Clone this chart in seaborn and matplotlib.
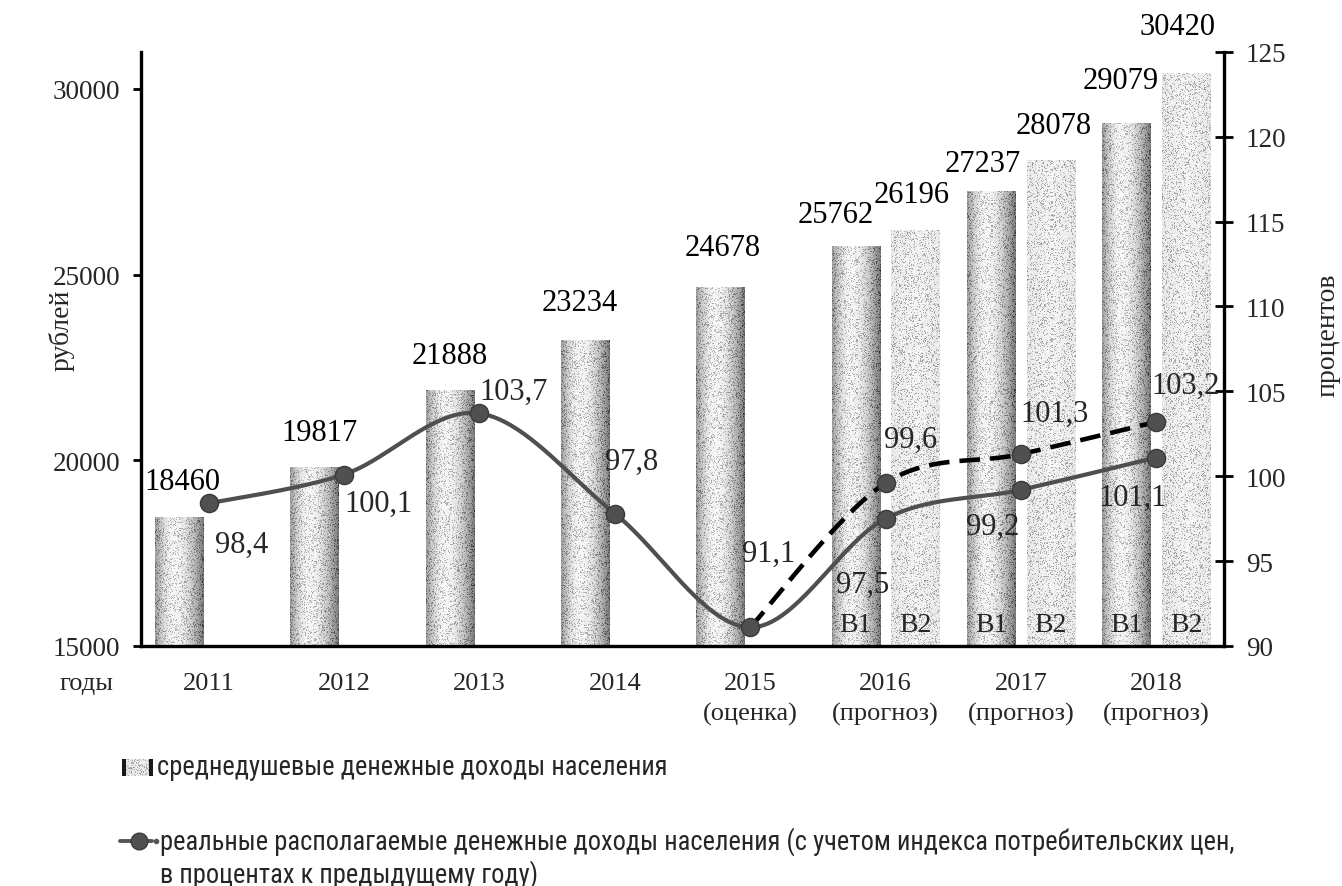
import numpy as np
import pandas as pd
import matplotlib
matplotlib.use("Agg")
import matplotlib.pyplot as plt
from matplotlib.lines import Line2D
from matplotlib import font_manager as fm
import seaborn as sns

# ---- data ----
years = ["2011", "2012", "2013", "2014", "2015", "2016", "2017", "2018"]
year_notes = ["", "", "", "", "(оценка)", "(прогноз)", "(прогноз)", "(прогноз)"]
variants = ["В1", "В2"]

income_v1 = [18460, 19817, 21888, 23234, 24678, 25762, 27237, 29079]
income_v2_years = ["2016", "2017", "2018"]
income_v2 = [26196, 28078, 30420]

real_v1 = [98.4, 100.1, 103.7, 97.8, 91.1, 97.5, 99.2, 101.1]
real_v2_years = ["2015", "2016", "2017", "2018"]
real_v2 = [91.1, 99.6, 101.3, 103.2]

legend_bars = "среднедушевые денежные доходы населения"
legend_line_1 = "реальные располагаемые денежные доходы населения (с учетом индекса потребительских цен,"
legend_line_2 = "в процентах к предыдущему году)"

df = pd.DataFrame({
    "year": years + income_v2_years,
    "income": income_v1 + income_v2,
    "variant": [variants[0]] * len(income_v1) + [variants[1]] * len(income_v2),
})

# ---- style ----
sns.set_theme(style="white")
plt.rcParams["font.family"] = ["Liberation Serif", "DejaVu Serif"]


def installed(name):
    try:
        fm.findfont(fm.FontProperties(family=name), fallback_to_default=False)
        return True
    except Exception:
        return False


narrow_family = next((f for f in ["Liberation Sans Narrow", "Arial Narrow", "Roboto Condensed",
                                  "Open Sans Condensed"] if installed(f)), "Liberation Sans")
NARROW = [narrow_family, "DejaVu Sans"]

W, H = 1342, 887
fig = plt.figure(figsize=(W / 100, H / 100), dpi=100)
fig.patch.set_facecolor("white")


def fx(px):
    return px / W


def fy(py):
    return 1 - py / H


ax = fig.add_axes([fx(141), fy(647), fx(1224) - fx(141), fy(52.7) - fy(647)])
Y0, Y1 = 15000, 31000
P0, P1 = 90, 125

sns.barplot(data=df, x="year", y="income", hue="variant", order=years,
            hue_order=variants, palette={"В1": "#909090", "В2": "#d8d8d8"},
            width=0.88, gap=0.19, saturation=1, errorbar=None, legend=False,
            ax=ax, zorder=2)
ax.set_xlim(-0.5, len(years) - 0.5)
ax.set_ylim(Y0, Y1)

rng = np.random.default_rng(7)
px_per_unit = (647 - 52.7) / (Y1 - Y0)


def shade(u, light):
    """Cylinder-like brightness profile across a bar (u from 0 to 1)."""
    if light:
        return 0.95 - 0.04 * np.abs(u - 0.5) * 2
    left = 0.96 - 0.36 * ((0.40 - u) / 0.40) ** 1.8
    right = 0.96 - 0.50 * ((u - 0.40) / 0.60) ** 1.8
    return np.where(u < 0.40, left, right)


def grain(prof, density, depth):
    rows, cols = prof.shape
    speck = rng.random((rows, cols)) < density
    return np.clip(prof + rng.normal(0, 0.03, (rows, cols)) - speck * depth, 0, 1)


bars = sorted([p for p in ax.patches if p.get_height() > 0], key=lambda p: p.get_x())
for p in bars:
    light = p.get_facecolor()[0] > 0.7
    x0, w, h = p.get_x(), p.get_width(), p.get_height()
    rows = max(int((h - Y0) * px_per_unit), 2)
    cols = 48
    u = (np.arange(cols) + 0.5) / cols
    prof = np.tile(shade(u, light), (rows, 1))
    img = grain(prof, 0.16, 0.28) if light else grain(prof, 0.18, 0.25)
    im = ax.imshow(img, extent=[x0, x0 + w, Y0, h], aspect="auto", cmap="gray",
                   vmin=0, vmax=1, interpolation="nearest", zorder=2)
    im.set_clip_path(p)
    p.set_facecolor("none")
    p.set_edgecolor("none")

# value labels above the bars (pixel nudges: dx, height above top)
bar_label_nudge = [(3, 36), (5, 35), (0, 35), (-5, 38), (2, 39), (-20, 32),
                   (-4, 36), (-8, 28), (3, 35), (-6, 43), (-9, 47)]
for p, (dx, dy) in zip(bars, bar_label_nudge):
    ax.annotate(f"{int(round(p.get_height()))}",
                xy=(p.get_x() + p.get_width() / 2, p.get_height()),
                xytext=(dx * 0.72, dy * 0.72), textcoords="offset points",
                ha="center", va="center", fontsize=22, color="black", zorder=6)

# variant captions at the foot of the forecast bars
for yr in income_v2_years:
    idx = years.index(yr)
    pair = [p for p in bars if abs(p.get_x() + p.get_width() / 2 - idx) < 0.5]
    for p, name in zip(sorted(pair, key=lambda q: q.get_x()), variants):
        ax.annotate(name, xy=(p.get_x() + p.get_width() / 2, 0), xycoords=("data", "axes fraction"),
                    xytext=(0, 21 * 0.72), textcoords="offset points",
                    ha="center", va="center", fontsize=20, zorder=6)

# ---- axes decoration ----
ax.set_xlabel("")
ax.set_ylabel("")
ax.set_xticks(range(len(years)))
ax.set_xticklabels([y if not n else f"{y}\n{n}" for y, n in zip(years, year_notes)],
                   fontsize=19, linespacing=1.45)
ax.set_xticks(np.arange(-0.5, len(years)), minor=True)
ax.tick_params(axis="x", which="major", length=0, pad=19)
ax.tick_params(axis="x", which="minor", length=7, width=2, direction="out", color="black")
ax.set_yticks([15000, 20000, 25000, 30000])
ax.tick_params(axis="y", length=6, width=2, direction="out", pad=9, labelsize=19.5,
               left=True, color="black")
for s in ["top", "right"]:
    ax.spines[s].set_visible(False)
for s in ["left", "bottom"]:
    ax.spines[s].set_linewidth(2.4)
    ax.spines[s].set_color("black")
ax.grid(False)

ax2 = ax.twinx()
ax2.set_ylim(P0, P1)
ax2.set_yticks(np.arange(90, 126, 5))
ax2.tick_params(axis="y", length=13.5, width=2, direction="inout", pad=9,
                labelsize=19.5, right=True, color="black")
for s in ["top", "left", "bottom"]:
    ax2.spines[s].set_visible(False)
ax2.spines["right"].set_linewidth(2.4)
ax2.spines["right"].set_color("black")
ax2.grid(False)

# ---- smoothed lines on the percent axis ----
sx = (1224 - 141) / len(years)
sy = (647 - 53) / (P1 - P0)


def smooth(xs, ys, n=40):
    pts = np.column_stack([np.asarray(xs, float) * sx, np.asarray(ys, float) * sy])
    ext = np.vstack([pts[0], pts, pts[-1]])
    out = []
    for i in range(len(pts) - 1):
        p0, p1, p2, p3 = ext[i], ext[i + 1], ext[i + 2], ext[i + 3]
        c1 = p1 + (p2 - p0) / 6
        c2 = p2 - (p3 - p1) / 6
        t = np.linspace(0, 1, n)[:, None]
        seg = ((1 - t) ** 3) * p1 + 3 * ((1 - t) ** 2) * t * c1 + 3 * (1 - t) * t ** 2 * c2 + t ** 3 * p2
        out.append(seg if i == 0 else seg[1:])
    out = np.vstack(out)
    return out[:, 0] / sx, out[:, 1] / sy


x1 = np.arange(len(years))
x2 = np.array([years.index(y) for y in real_v2_years])

lx, ly = smooth(x1, real_v1)
ax2.plot(lx, ly, color="#4f4f4f", lw=3.0, solid_capstyle="round", zorder=3)
dx2, dy2 = smooth(x2, real_v2)
ax2.plot(dx2, dy2, color="black", lw=3.3, dashes=(4.5, 2.2), zorder=4)

marks = pd.DataFrame({"x": np.concatenate([x1, x2[1:]]),
                      "v": real_v1 + real_v2[1:]})
sns.scatterplot(data=marks, x="x", y="v", ax=ax2, s=170, color="#505050",
                edgecolor="#3a3a3a", linewidth=1, zorder=5, legend=False)
ax2.set_xlabel("")
ax2.set_ylabel("")
ax2.set_xlim(-0.5, len(years) - 0.5)

# percent labels (pixel nudges from each point)
nudge_v1 = [(33, -41), (34, -29), (34, 22), (17, 52), (18, 74), (-23, -66), (-28, -37), (-24, -40)]
nudge_v2 = [(25, 44), (34, 41), (29, 37)]
for xi, v, (dx, dy) in zip(x1, real_v1, nudge_v1):
    ax2.annotate(f"{v:.1f}".replace(".", ","), xy=(xi, v), xytext=(dx * 0.72, dy * 0.72),
                 textcoords="offset points", ha="center", va="center", fontsize=22, zorder=6)
for xi, v, (dx, dy) in zip(x2[1:], real_v2[1:], nudge_v2):
    ax2.annotate(f"{v:.1f}".replace(".", ","), xy=(xi, v), xytext=(dx * 0.72, dy * 0.72),
                 textcoords="offset points", ha="center", va="center", fontsize=22, zorder=6)

# ---- axis titles ----
fig.text(fx(62), fy(330), "рублей", rotation=90, ha="center", va="center", fontsize=20)
fig.text(fx(1328), fy(335), "процентов", rotation=90, ha="center", va="center", fontsize=20)
fig.text(fx(86), fy(684), "годы", ha="center", va="center", fontsize=19)

# ---- legend ----
sw = fig.add_axes([fx(122), fy(777), fx(153) - fx(122), fy(760) - fy(777)])
u = (np.arange(32) + 0.5) / 32
sw_img = grain(np.tile(shade(u, True) - 0.03, (16, 1)), 0.2, 0.25)
sw_img[:, :4] = 0.1
sw_img[:, -4:] = 0.1
sw.imshow(sw_img, cmap="gray", vmin=0, vmax=1, aspect="auto", interpolation="nearest")
sw.axis("off")

t_bars = fig.text(fx(157), fy(768), legend_bars, ha="left", va="center", fontsize=20, family=NARROW)
t_line1 = fig.text(fx(160), fy(842), legend_line_1, ha="left", va="center", fontsize=20, family=NARROW)
t_line2 = fig.text(fx(160), fy(875), legend_line_2, ha="left", va="center", fontsize=20, family=NARROW)

# fit the legend type so that its long line spans the same width as the plot
renderer = fig.canvas.get_renderer()
target = 1075
width = t_line1.get_window_extent(renderer).width
size = min(20, 20 * target / width)
for t in (t_bars, t_line1, t_line2):
    t.set_fontsize(size)

fig.add_artist(Line2D([fx(120), fx(152)], [fy(842), fy(842)], color="#555555", lw=2.8,
                      transform=fig.transFigure))
fig.add_artist(Line2D([fx(139)], [fy(842)], marker="o", markersize=12, color="#505050",
                      markeredgecolor="#3a3a3a", transform=fig.transFigure))
fig.add_artist(Line2D([fx(156)], [fy(842)], marker="o", markersize=3, color="#555555",
                      transform=fig.transFigure))

fig.savefig("out.png", dpi=100, facecolor="white")
